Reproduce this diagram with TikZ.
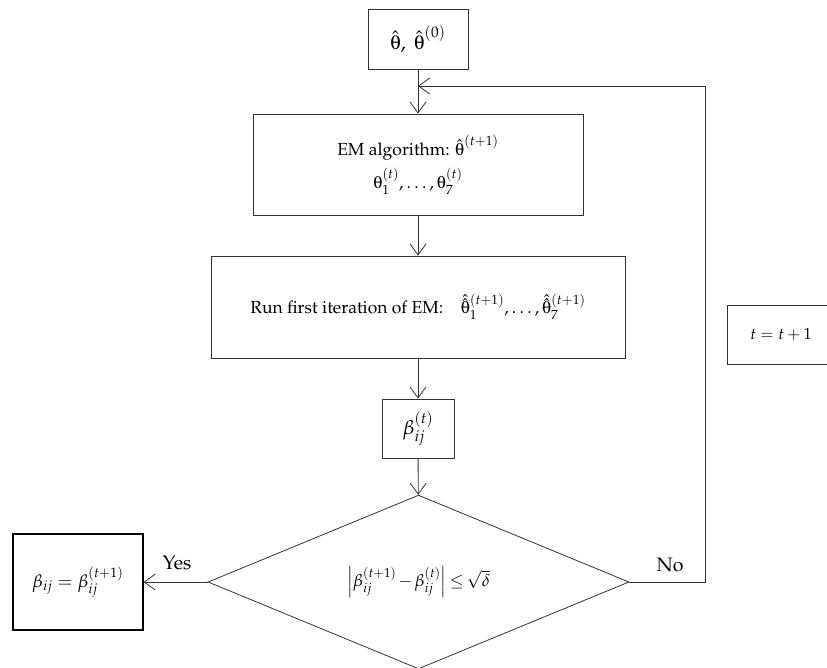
\documentclass[tikz,border=0pt]{standalone}
\usepackage[T1]{fontenc}
\usepackage{mathpazo}
\usepackage{amsmath}
\usepackage[Symbol]{upgreek}
\usetikzlibrary{arrows.meta,shapes.geometric}
\newcommand{\thb}{\boldsymbol{\uptheta}}
\begin{document}
\begin{tikzpicture}[x=1pt,y=-1pt,
  box/.style={draw=black!80, line width=0.8pt, inner sep=0pt, align=center,
              font=\fontsize{17.5}{21}\selectfont},
  conn/.style={draw=black!80, line width=0.8pt, -{Straight Barb[length=11pt,width=16pt]}},
  lbl/.style={font=\fontsize{19.5}{22}\selectfont}]
\clip (0,0) rectangle (827,667);
\node[box, font=\fontsize{20}{24}\selectfont, minimum width=100pt, minimum height=60pt] (init) at (418,39)
  {$\hat{\thb},\ \hat{\thb}^{(0)}$};
\node[box, minimum width=330pt, minimum height=101pt] (em) at (418,164.5)
  {EM algorithm: $\hat{\thb}^{(t+1)}$\\[7pt] $\thb_1^{(t)},\dots,\thb_7^{(t)}$};
\node[box, minimum width=414pt, minimum height=102pt] (run) at (418,307)
  {Run first iteration of EM:\quad $\hat{\hat{\thb}}_1^{(t+1)},\dots,\hat{\hat{\thb}}_7^{(t+1)}$};
\node[box, font=\fontsize{20}{24}\selectfont, minimum width=72pt, minimum height=59pt] (beta) at (418,428.5)
  {$\beta_{ij}^{(t)}$};
\node[box, font=\fontsize{17}{20}\selectfont, shape=diamond, minimum width=421pt, minimum height=168pt] (dia) at (418.5,582)
  {$\medmuskip=2mu\thickmuskip=3mu\left|\beta_{ij}^{(t+1)}-\beta_{ij}^{(t)}\right|\le\sqrt{\delta}$};
\node[box, font=\fontsize{18}{21}\selectfont, line width=1.3pt, draw=black, minimum width=130pt, minimum height=96pt] (res) at (78,582)
  {$\beta_{ij}=\beta_{ij}^{(t+1)}$};
\node[box, font=\fontsize{16}{19}\selectfont, minimum width=108pt, minimum height=59pt] (upd) at (781,334.5)
  {$t=t+1$};
\coordinate (corner) at (705,86);
\coordinate (fb) at (418,86);
\draw[conn] (init) -- (em);
\draw[conn] (em) -- (run);
\draw[conn] (run) -- (beta);
\draw[conn] (beta) -- (dia);
\draw[conn] (dia.west) -- (res.east);
\draw[conn] (dia.east) -| (corner) -- (fb);
\node[lbl] (yes) at (177,563) {Yes};
\node[lbl] (no) at (670,565) {No};
\end{tikzpicture}
\end{document}
